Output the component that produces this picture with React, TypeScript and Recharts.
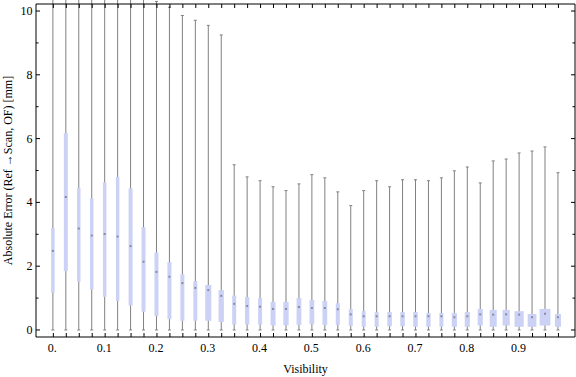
import React from 'react';
import { ComposedChart, Bar, XAxis, YAxis } from 'recharts';

// Visibility bins (x categories)
const visibility = [
  0, 0.025, 0.05, 0.075, 0.1, 0.125, 0.15, 0.175, 0.2, 0.225,
  0.25, 0.275, 0.3, 0.325, 0.35, 0.375, 0.4, 0.425, 0.45, 0.475,
  0.5, 0.525, 0.55, 0.575, 0.6, 0.625, 0.65, 0.675, 0.7, 0.725,
  0.75, 0.775, 0.8, 0.825, 0.85, 0.875, 0.9, 0.925, 0.95, 0.975,
];

// Whisker bottoms
const whiskerLow = [
  0, 0, 0, 0, 0, 0, 0, 0, 0, 0,
  0, 0, 0, 0, 0, 0, 0, 0, 0, 0,
  0, 0, 0, 0, 0, 0, 0, 0, 0, 0,
  0, 0, 0, 0, 0, 0, 0, 0, 0, 0,
];

// Lower quartile
const lowerQuartile = [
  1.17, 1.85, 1.51, 1.26, 1.04, 0.91, 0.77, 0.57, 0.43, 0.34,
  0.29, 0.29, 0.29, 0.25, 0.17, 0.17, 0.17, 0.14, 0.15, 0.16,
  0.18, 0.16, 0.16, 0.125, 0.1, 0.1, 0.12, 0.12, 0.1, 0.1,
  0.1, 0.1, 0.1, 0.14, 0.1, 0.14, 0.1, 0.1, 0.14, 0.1,
];

// Median
const medianError = [
  2.48, 4.17, 3.18, 2.96, 3.01, 2.93, 2.63, 2.14, 1.82, 1.67,
  1.47, 1.32, 1.25, 1.07, 0.82, 0.75, 0.73, 0.66, 0.66, 0.72,
  0.69, 0.69, 0.65, 0.49, 0.43, 0.43, 0.43, 0.43, 0.43, 0.43,
  0.43, 0.4, 0.43, 0.49, 0.48, 0.49, 0.48, 0.4, 0.51, 0.4,
];

// Upper quartile
const upperQuartile = [
  3.2, 6.17, 4.46, 4.13, 4.63, 4.8, 4.44, 3.22, 2.43, 2.13,
  1.75, 1.53, 1.41, 1.25, 1.08, 1.03, 1.0, 0.88, 0.88, 1.0,
  0.94, 0.91, 0.84, 0.66, 0.59, 0.56, 0.56, 0.56, 0.56, 0.53,
  0.53, 0.53, 0.56, 0.66, 0.63, 0.63, 0.59, 0.5, 0.66, 0.5,
];

// Whisker tops
const whiskerHigh = [
  14, 15, 14, 13, 13.5, 12.5, 12, 11, 10.3, 10.12,
  9.86, 9.71, 9.55, 9.25, 5.18, 4.8, 4.68, 4.49, 4.37, 4.58,
  4.87, 4.77, 4.33, 3.9, 4.37, 4.68, 4.49, 4.71, 4.71, 4.68,
  4.77, 4.99, 5.11, 4.61, 5.3, 5.36, 5.55, 5.61, 5.74, 4.93,
];

// Relative sample size (controls box width)
const relativeSampleSize = [
  0.32, 0.37, 0.32, 0.32, 0.32, 0.32, 0.37, 0.37, 0.37, 0.37,
  0.37, 0.37, 0.56, 0.49, 0.37, 0.4, 0.37, 0.46, 0.49, 0.44,
  0.44, 0.44, 0.37, 0.37, 0.37, 0.37, 0.42, 0.42, 0.42, 0.4,
  0.37, 0.48, 0.48, 0.48, 0.65, 0.67, 0.85, 0.81, 1, 0.56,
];

const xLabelValues = [0, 0.1, 0.2, 0.3, 0.4, 0.5, 0.6, 0.7, 0.8, 0.9];
const xTickLabels = ['0.', '0.1', '0.2', '0.3', '0.4', '0.5', '0.6', '0.7', '0.8', '0.9'];
const yTicks = [0, 1, 2, 3, 4, 5, 6, 7, 8, 9, 10];
const yLabelValues = [0, 2, 4, 6, 8, 10];

const data = visibility.map((v, i) => ({
  visibility: v,
  min: whiskerLow[i],
  q1: lowerQuartile[i],
  median: medianError[i],
  q3: upperQuartile[i],
  max: whiskerHigh[i],
  weight: relativeSampleSize[i],
}));

const FONT = "'Liberation Serif', 'Times New Roman', serif";
const MAX_BOX_W = 10.8;
const BOX_FILL = '#cbd2f5';
const WHISKER = '#808080';

const BoxShape = (props: any) => {
  const { x, y, width, height, payload } = props;
  if (payload == null) return <g />;
  const cx = x + width / 2;
  const top = Math.min(y, y + height);
  const bottom = Math.max(y, y + height);
  const ppu = (bottom - top) / (payload.q3 - payload.q1);
  const yOf = (v: number) => bottom - (v - payload.q1) * ppu;
  const yMin = yOf(payload.min);
  const yMax = yOf(payload.max);
  const yMed = yOf(payload.median);
  const bw = MAX_BOX_W * payload.weight;
  return (
    <g>
      <line x1={cx} x2={cx} y1={yMin} y2={yMax} stroke={WHISKER} strokeWidth={1} />
      <line x1={cx - 1.5} x2={cx + 1.5} y1={yMin} y2={yMin} stroke={WHISKER} strokeWidth={1} />
      <line x1={cx - 1.5} x2={cx + 1.5} y1={yMax} y2={yMax} stroke={WHISKER} strokeWidth={1} />
      <rect x={cx - bw / 2} y={top} width={bw} height={bottom - top} fill={BOX_FILL} />
      <rect x={cx - 1} y={yMed - 1} width={2} height={2} fill="#8a8c9c" />
    </g>
  );
};

const near = (a: number, b: number) => Math.abs(a - b) < 1e-6;

const BottomTick = (props: any) => {
  const { x, y, payload } = props;
  const idx = xLabelValues.findIndex((v) => near(v, payload.value));
  return (
    <g>
      <line x1={x} x2={x} y1={y} y2={y - 4} stroke="#000" strokeWidth={1} />
      {idx >= 0 && (
        <text x={x - 1} y={y + 14.5} textAnchor="middle" fontSize={12} fontFamily={FONT} fill="#000">
          {xTickLabels[idx]}
        </text>
      )}
    </g>
  );
};

const TopTick = (props: any) => {
  const { x, y } = props;
  return <line x1={x} x2={x} y1={y} y2={y + 4} stroke="#000" strokeWidth={1} />;
};

const LeftTick = (props: any) => {
  const { x, y, payload } = props;
  const major = yLabelValues.some((v) => near(v, payload.value));
  return (
    <g>
      <line x1={x} x2={x + (major ? 4 : 2.5)} y1={y} y2={y} stroke="#000" strokeWidth={1} />
      {major && (
        <text x={x - 3.5} y={y + 4} textAnchor="end" fontSize={12} fontFamily={FONT} fill="#000">
          {String(payload.value)}
        </text>
      )}
    </g>
  );
};

const RightTick = (props: any) => {
  const { x, y, payload } = props;
  const major = yLabelValues.some((v) => near(v, payload.value));
  return <line x1={x} x2={x - (major ? 4 : 2.5)} y1={y} y2={y} stroke="#000" strokeWidth={1} />;
};

const YLabel = (props: any) => {
  const vb = props.viewBox || { x: 0, y: 4, width: 36, height: 333 };
  const cx = vb.x + 11.5;
  const cy = vb.y + vb.height / 2;
  return (
    <text
      x={cx}
      y={cy}
      transform={`rotate(-90, ${cx}, ${cy})`}
      textAnchor="middle"
      fontSize={12}
      fontFamily={FONT}
      fill="#000"
    >
      Absolute Error (Ref →Scan, OF) [mm]
    </text>
  );
};

const X_DOMAIN: [number, number] = [-0.0335, 1.007];
const Y_DOMAIN: [number, number] = [-0.22, 10.22];

export default function App() {
  return (
    <div style={{ width: 576, height: 377, background: '#fff' }}>
      <style>{'body{margin:0;}'}</style>
      <ComposedChart
        width={576}
        height={377}
        data={data}
        margin={{ top: 0, right: 0, bottom: 0, left: 0 }}
      >
        <XAxis
          xAxisId="bottom"
          dataKey="visibility"
          type="number"
          domain={X_DOMAIN}
          ticks={visibility}
          interval={0}
          height={40}
          tickSize={0}
          tickMargin={0}
          tickLine={false}
          axisLine={{ stroke: '#000' }}
          tick={(p: any) => <BottomTick {...p} />}
          label={{ value: 'Visibility', position: 'insideBottom', offset: 4, fill: '#000', fontSize: 12, fontFamily: FONT }}
        />
        <XAxis
          xAxisId="top"
          orientation="top"
          type="number"
          dataKey="visibility"
          domain={X_DOMAIN}
          allowDataOverflow
          ticks={visibility}
          interval={0}
          height={4}
          tickSize={0}
          tickMargin={0}
          tickLine={false}
          axisLine={{ stroke: '#000' }}
          tick={(p: any) => <TopTick {...p} />}
        />
        <YAxis
          yAxisId="left"
          type="number"
          domain={Y_DOMAIN}
          ticks={yTicks}
          interval={0}
          width={36}
          tickSize={0}
          tickMargin={0}
          tickLine={false}
          axisLine={{ stroke: '#000' }}
          tick={(p: any) => <LeftTick {...p} />}
          label={{ content: (p: any) => <YLabel {...p} /> }}
        />
        <YAxis
          yAxisId="right"
          orientation="right"
          type="number"
          domain={Y_DOMAIN}
          allowDataOverflow
          ticks={yTicks}
          interval={0}
          width={1}
          tickSize={0}
          tickMargin={0}
          tickLine={false}
          axisLine={{ stroke: '#000' }}
          tick={(p: any) => <RightTick {...p} />}
        />
        <Bar
          xAxisId="bottom"
          yAxisId="left"
          dataKey={(d: any) => [d.q1, d.q3]}
          barSize={12}
          shape={(p: any) => <BoxShape {...p} />}
          isAnimationActive={false}
        />
      </ComposedChart>
    </div>
  );
}
